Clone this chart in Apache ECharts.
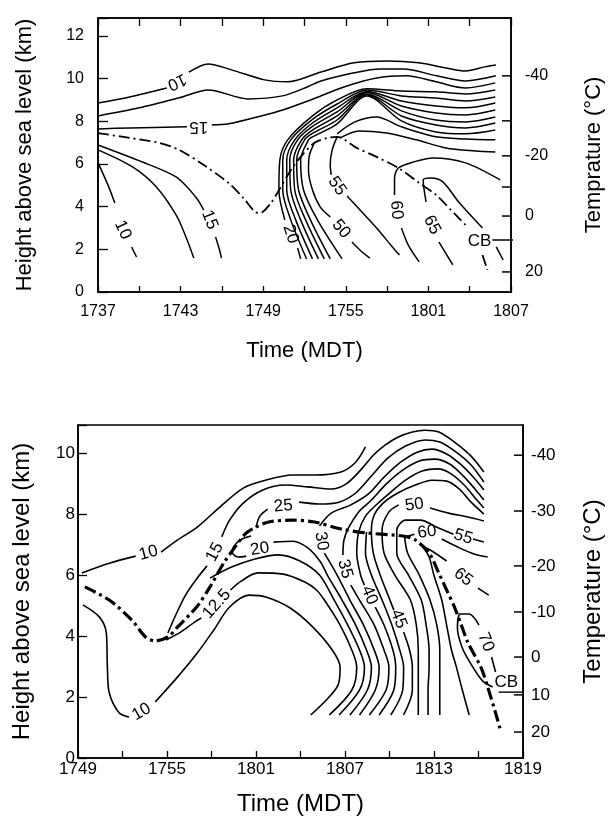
<!DOCTYPE html>
<html><head><meta charset="utf-8">
<script src="https://cdn.jsdelivr.net/npm/echarts@6/dist/echarts.min.js"></script>
<style>html,body{margin:0;padding:0;background:#fff}#c{width:613px;height:818px}</style>
</head><body><div id="c"></div>
<script>
const FONT = '"Liberation Sans", Arial, Helvetica, sans-serif';
// time values are minutes after 17:00
const TOP0 = 37, BOT0 = 49;
const xLabelsTop = ['1737','1743','1749','1755','1801','1807'];
const xLabelsBot = ['1749','1755','1801','1807','1813','1819'];
const tempTopHeights = [10.13, 8.02, 6.38, 4.92, 3.56, 0.94];
const tempTopLabels  = ['-40', '', '-20', '', '0', '20'];
const tempBotHeights = [9.93, 8.10, 6.30, 4.79, 3.31, 2.07, 0.85];
const tempBotLabels  = ['-40', '-30', '-20', '-10', '0', '10', '20'];

// ---------- top panel contours [time, height km] ----------
const t10a = [[37.0,8.86],[39.3,9.14],[42.0,9.56]];
const t10b = [[43.6,10.3],[45.0,10.69],[46.7,10.41],[49.1,9.94],[50.8,9.85],[53.2,10.31],[55.6,10.74],[58.0,10.83],[60.3,10.74],[62.3,10.5],[63.7,10.36],[65.1,10.55],[65.9,10.64]];
const t125 = [[37.0,8.25],[40.0,8.63],[42.9,9.1],[45.0,9.47],[47.9,9.05],[50.4,9.19],[52.2,9.61],[53.2,9.89],[55.6,10.27],[57.5,10.45],[59.2,10.45],[61.6,10.13],[63.7,9.89],[65.9,10.13]];
const t15a = [[37.0,7.64],[39.3,7.69],[43.46,7.74]];
const t15b = [[45.26,7.83],[46.48,7.88],[48.84,8.25],[50.42,8.53],[52.43,9.0],[54.87,9.61],[57.24,10.03],[59.4,10.13],[61.55,9.85],[63.7,9.56],[65.86,9.8]];
const tl10a = [[37.0,6.05],[37.72,5.02],[38.22,4.17]];
const tl10b = [[39.44,2.11],[39.8,1.64]];
const tl125 = [[37.0,6.66],[39.51,5.86],[41.24,4.92],[42.67,3.61],[43.39,2.58],[43.96,1.59]];
const tl15a = [[37.0,6.89],[40.23,6.09],[42.67,5.39],[44.1,4.45],[44.68,3.84]];
const tl15b = [[45.54,2.58],[45.83,1.97],[45.97,1.59]];
const tb1a = [[51.72,1.55],[51.5,2.06]];
const tb1b = [[50.57,3.38],[50.14,4.78],[50.21,6.19],[50.78,7.13],[52.58,8.25],[54.37,9.0],[56.53,9.52],[59.04,9.42],[61.55,9.38],[63.7,9.28],[65.86,9.47]];
const tb2 = [[52.15,1.55],[51.0,3.38],[50.42,4.78],[50.42,6.19],[51.0,7.13],[52.58,8.09],[54.37,8.81],[56.53,9.47],[59.04,9.19],[61.55,9.09],[63.7,8.95],[65.86,9.14]];
const tb3 = [[52.58,1.55],[51.36,3.38],[50.71,4.78],[50.71,6.19],[51.29,7.13],[52.58,7.92],[54.37,8.63],[56.53,9.4],[59.04,8.95],[61.55,8.72],[63.7,8.63],[65.86,8.86]];
const tb4 = [[53.01,1.55],[51.72,3.38],[51.0,4.78],[50.93,6.19],[51.5,7.13],[52.58,7.76],[54.37,8.44],[56.53,9.35],[59.04,8.72],[61.55,8.39],[63.7,8.3],[65.86,8.53]];
const tb5 = [[53.44,1.55],[52.08,3.38],[51.29,4.78],[51.21,6.19],[51.79,7.13],[52.58,7.59],[54.37,8.25],[56.53,9.28],[59.04,8.49],[61.55,8.06],[63.7,7.97],[65.86,8.2]];
const tb6 = [[53.87,1.55],[52.43,3.38],[51.57,4.78],[51.43,6.19],[52.0,7.13],[52.58,7.43],[54.37,8.06],[56.53,9.24],[59.04,8.25],[61.55,7.83],[63.7,7.69],[65.86,7.92]];
const tb7 = [[54.73,1.55],[52.94,3.38],[51.93,4.78],[51.72,6.19],[52.29,7.13],[52.58,7.27],[54.37,7.88],[56.53,9.19],[59.04,8.02],[61.55,7.5],[63.7,7.41],[65.86,7.59]];
const ts1 = [[54.37,7.41],[55.66,7.97],[57.24,8.2],[59.04,7.74],[61.55,7.27],[63.7,7.17],[65.86,7.13]];
const ts2 = [[54.59,7.22],[55.95,7.55],[57.96,7.45],[60.12,7.13],[62.27,6.75],[64.42,6.61],[65.86,6.56]];
const t50a = [[52.72,6.99],[52.36,6.42],[52.29,5.72],[52.58,4.78],[53.15,3.98],[53.87,3.52]];
const t50b = [[55.45,2.34],[56.02,1.97],[56.74,1.59]];
const t55a = [[54.37,7.27],[54.01,6.66],[53.87,5.95],[53.94,5.49]];
const t55b = [[55.09,4.5],[56.17,3.75],[57.24,3.0],[58.32,2.16],[58.9,1.73]];
const t60a = [[66.22,5.25],[63.7,6.05],[61.34,6.28],[59.9,6.09],[58.82,5.81],[58.54,5.34],[58.54,4.55]];
const t60b = [[59.04,3.0],[59.54,2.2],[60.33,1.41]];
const t65a = [[64.93,3.0],[63.2,4.22],[62.05,5.16],[61.19,5.34],[60.62,5.25],[60.83,4.22]];
const t65b = [[61.77,2.34],[62.77,1.27]];
const tCBa = [[37.0,7.45],[39.3,7.22],[41.45,6.99],[42.9,6.66],[44.68,5.95],[46.48,5.11],[47.55,4.41],[48.41,3.75],[48.77,3.7],[49.56,4.17],[50.07,4.69],[50.93,5.63],[51.72,6.33],[52.72,6.99],[53.65,7.22],[54.37,7.27],[55.81,6.75],[57.24,6.33],[58.82,5.81],[60.33,5.11],[61.55,4.55],[62.99,3.61],[63.7,3.14]];
const tCBb = [[64.93,1.73],[65.29,1.03]];
const tCBline = [[65.64,2.44],[67.37,2.44]];
const tTail = [[65.93,2.11],[66.43,1.5]];
const topLabels = [['10',42.74,9.85,205],['15',44.32,7.74,180],['10',38.79,2.91,-65],['15',45.11,3.38,-68],['20',51.0,2.72,-72],['55',54.37,4.97,-55],['50',54.66,2.95,-50],['60',58.68,3.84,-85],['65',61.26,3.14,-62],['CB',64.71,2.39,0]];

// ---------- bottom panel contours ----------
const b10a = [[49.26,6.07],[51.11,6.39],[52.89,6.62]];
const b10b = [[54.6,6.75],[55.72,7.15],[57.04,7.57],[58.56,8.23],[60.14,8.85],[61.66,9.11],[63.44,9.28],[64.95,9.28],[66.73,9.38],[67.72,9.7],[68.38,10.2]];
const b10la = [[49.33,5.02],[50.45,4.62],[50.91,4.1],[50.98,2.98],[51.11,2.13],[51.77,1.48],[52.43,1.34]];
const b10lb = [[54.21,1.84],[55.72,2.66],[57.04,3.44],[58.16,4.2],[59.22,4.95],[60.54,5.34],[61.66,5.28],[63.3,4.92],[64.82,4.3],[66.14,3.54],[66.67,2.98],[66.53,2.39],[65.74,1.9],[64.69,1.41]];
const b125a = [[54.93,3.87],[55.92,4.13],[56.84,4.45],[57.31,4.59]];
const b125b = [[59.28,5.51],[60.0,5.8],[61.13,6.07],[62.84,6.03],[64.29,5.77],[65.08,5.51],[65.61,5.18],[66.67,4.36],[67.46,3.54],[67.79,2.98],[67.46,2.23],[65.94,1.41]];
const b175 = [[57.9,5.9],[59.35,6.26],[60.87,6.52],[62.51,6.66],[63.96,6.46],[65.28,6.0],[66.27,5.18],[67.19,4.36],[67.98,3.54],[68.31,2.98],[67.98,2.23],[66.6,1.41]];
const b15a = [[55.06,4.1],[55.59,4.69],[56.25,5.34],[57.04,5.9],[57.7,6.3]];
const b15b = [[58.69,7.25],[59.22,7.8],[60.14,8.36],[61.46,8.79],[62.98,8.95],[64.49,8.89],[66.07,8.82],[67.06,8.98],[68.05,9.44],[68.91,9.93],[69.7,10.26],[70.56,10.52],[71.54,10.69],[72.4,10.75],[73.32,10.69],[74.38,10.36],[75.5,9.9],[76.36,9.38]];
const b20a = [[60.67,7.28],[59.94,7.15],[59.48,6.92],[59.42,6.72],[59.81,6.59],[60.34,6.62]];
const b20b = [[62.18,7.08],[63.5,7.11],[64.49,6.89],[65.35,6.43],[65.81,6.0],[66.8,5.18],[67.72,4.36],[68.45,3.54],[68.78,2.98],[68.51,2.23],[67.33,1.41]];
const b25a = [[61.0,7.57],[61.26,7.93],[61.79,8.16]];
const b25b = [[63.9,8.39],[65.28,8.33],[66.6,8.39],[67.72,8.69],[68.78,9.25],[69.9,9.84],[71.08,10.23],[72.4,10.43],[73.39,10.36],[74.38,10.07],[75.5,9.61],[76.36,9.05]];
const b30a = [[65.28,7.61],[66.07,8.03],[67.39,8.3],[68.58,8.66],[69.57,9.18],[70.75,9.7],[71.87,10.03],[72.86,10.13],[73.85,9.97],[74.84,9.61],[75.7,9.18],[76.36,8.79]];
const b30b = [[65.61,6.72],[66.47,6.0],[67.33,5.18],[68.25,4.36],[68.97,3.54],[69.3,2.98],[69.04,2.23],[67.98,1.41]];
const b35a = [[76.36,8.46],[75.76,8.82],[74.97,9.25],[74.05,9.64],[73.06,9.8],[72.01,9.74],[70.89,9.44],[69.77,8.98],[68.78,8.46],[67.92,8.07],[67.26,7.57],[66.93,7.15],[66.86,6.66]];
const b35b = [[67.39,5.67],[67.98,5.18],[68.97,4.36],[69.63,3.54],[69.96,2.98],[69.77,2.23],[68.64,1.41]];
const b40a = [[76.36,8.2],[75.83,8.49],[75.1,8.92],[74.18,9.31],[73.26,9.48],[72.2,9.41],[71.08,9.11],[70.09,8.72],[69.17,8.33],[68.38,7.93],[67.92,7.41],[67.79,6.72],[68.05,6.0],[68.31,5.67]];
const b40b = [[69.04,4.95],[69.63,4.36],[70.23,3.54],[70.42,2.98],[70.29,2.23],[69.3,1.41]];
const b425 = [[68.45,7.41],[68.38,6.72],[68.78,6.0],[69.5,5.18],[70.16,4.36],[70.69,3.54],[70.95,2.98],[70.89,2.23],[70.09,1.41]];
const b45a = [[76.36,8.0],[75.5,8.39],[74.71,8.82],[73.85,9.08],[72.86,9.11],[71.74,8.95],[70.56,8.69],[69.57,8.36],[68.97,7.97],[68.78,7.48],[68.91,6.72],[69.37,6.0],[70.03,5.18],[70.29,4.85]];
const b45b = [[70.95,4.13],[71.35,3.54],[71.54,2.98],[71.54,2.23],[70.95,1.41]];
const b50a = [[76.36,7.77],[75.3,7.9],[73.98,8.03],[72.73,8.2]];
const b50b = [[70.62,8.3],[69.96,8.07],[69.5,7.48],[69.63,6.72],[70.36,6.0],[71.41,5.18],[71.81,4.36],[71.94,3.54],[71.94,2.98],[71.94,2.23],[71.94,1.41]];
const b55a = [[75.63,7.18],[76.36,7.08]];
const b55b = [[74.31,7.34],[73.19,7.57],[72.07,7.8],[71.08,7.8],[70.49,7.48],[70.49,6.72],[71.28,6.0],[72.14,5.18],[72.47,4.36],[72.67,3.54],[72.67,2.98],[72.6,2.23],[72.6,1.41]];
const b60a = [[71.02,7.25],[71.68,7.34]];
const b60b = [[73.52,7.18],[74.71,6.89],[75.7,6.69],[76.62,6.59]];
const b60leg = [[71.02,7.25],[71.22,6.72],[72.01,6.0],[72.73,5.18],[73.19,4.36],[73.39,3.54],[73.39,2.98],[73.39,2.23],[73.39,1.41]];
const b65a = [[72.2,6.95],[72.86,6.79],[73.85,6.46]];
const b65b = [[75.96,5.57],[76.69,5.34]];
const b65leg = [[72.2,6.95],[72.67,6.59],[72.99,6.0],[73.52,5.18],[73.85,4.36],[74.18,3.54],[74.51,2.98],[74.91,2.23],[75.37,1.41]];
const b70a = [[76.03,4.36],[75.37,4.72],[74.77,4.72],[74.58,4.26],[74.91,3.61],[75.57,3.02],[76.29,2.52],[76.95,2.33]];
const b70b = [[76.88,3.31],[77.15,2.82]];
const bCB = [[49.46,5.61],[51.11,5.18],[52.63,4.52],[53.55,3.97],[54.21,3.84],[55.06,3.97],[55.72,4.3],[57.04,4.98],[57.9,5.61],[58.82,6.39],[59.68,6.98],[60.34,7.38],[61.0,7.57],[61.85,7.74],[63.44,7.8],[64.95,7.74],[66.73,7.51],[68.45,7.38],[70.89,7.28],[71.74,7.15],[72.67,6.72],[73.32,6.07],[73.85,5.51],[74.38,4.95],[74.84,4.36],[75.3,3.77],[76.16,2.98],[76.62,2.33],[77.15,1.48],[77.48,0.92]];
const bCBline = [[77.35,2.16],[79.0,2.16]];
const botLabels = [['10',53.75,6.72,15],['10',53.28,1.51,30],['12.5',58.36,5.05,48],['15',58.23,6.75,62],['20',61.26,6.85,10],['25',62.84,8.26,5],['30',65.41,7.11,-80],['35',67.0,6.2,-75],['40',68.64,5.34,-68],['45',70.62,4.56,-68],['50',71.68,8.3,8],['60',72.53,7.41,8],['55',74.97,7.25,-18],['65',74.97,5.93,-38],['70',76.49,3.8,-68],['CB',77.87,2.49,0]];

// ---------- build ----------
const series = [];
function shift(a, t0) { return a.map(p => [p[0] - t0, p[1]]); }
function addLines(list, t0, xi, yi, width, type, clip) {
  list.forEach(a => series.push({
    type: 'line', xAxisIndex: xi, yAxisIndex: yi, data: shift(a, t0),
    smooth: 0.3, symbol: 'none', silent: true, clip: clip !== false,
    lineStyle: { color: '#000', width: width, type: type || 'solid' }, z: 3
  }));
}
function addLabels(list, t0, xi, yi) {
  series.push({
    type: 'scatter', xAxisIndex: xi, yAxisIndex: yi, symbolSize: 0.5, silent: true, z: 4,
    itemStyle: { color: '#fff', opacity: 1 },
    label: { show: true, position: 'inside', color: '#000', opacity: 1, textBorderWidth: 0, fontSize: 17, fontFamily: FONT },
    data: list.map(l => ({ value: [l[1] - t0, l[2]], label: { formatter: l[0], rotate: l[3] } }))
  });
}
function addTemp(heights, labels, xi, yi, dist, fs) {
  series.push({
    type: 'scatter', xAxisIndex: xi, yAxisIndex: yi, clip: false, silent: true, z: 5,
    symbol: 'rect', symbolSize: [9, 1.5], symbolOffset: [-4.5, 0], itemStyle: { color: '#000', opacity: 1 },
    label: { show: true, position: 'right', distance: dist, color: '#000', opacity: 1, textBorderWidth: 0, fontSize: fs, fontFamily: FONT },
    data: heights.map((h, i) => labels[i] ? { value: [30, h], label: { formatter: labels[i] } } : { value: [30, h], label: { show: false } })
  });
}

addLines([t10a,t10b,t125,t15a,t15b,tl10a,tl10b,tl125,tl15a,tl15b,tb1a,tb1b,tb2,tb3,tb4,tb5,tb6,tb7,ts1,ts2,t50a,t50b,t55a,t55b,t60a,t60b,t65a,t65b,tTail], TOP0, 0, 0, 1.5);
addLines([tCBa,tCBb], TOP0, 0, 0, 1.8, [11,4,2,4]);
addLines([tCBline], TOP0, 0, 0, 1.4, 'solid', false);
addLabels(topLabels, TOP0, 0, 0);
addTemp(tempTopHeights, tempTopLabels, 0, 0, 14, 16);

addLines([b10a,b10b,b10la,b10lb,b125a,b125b,b175,b15a,b15b,b20a,b20b,b25a,b25b,b30a,b30b,b35a,b35b,b40a,b40b,b425,b45a,b45b,b50a,b50b,b55a,b55b,b60a,b60b,b60leg,b65a,b65b,b65leg,b70a,b70b], BOT0, 2, 2, 1.6);
addLines([bCB], BOT0, 2, 2, 3.2, [12,4,3,4]);
addLines([bCBline], BOT0, 2, 2, 1.4, 'solid', false);
addLabels(botLabels, BOT0, 2, 2);
addTemp(tempBotHeights, tempBotLabels, 2, 2, 8, 17);

const axLine = { show: true, onZero: false, lineStyle: { color: '#000', width: 1.6 } };
const nameStyle = (fs) => ({ fontSize: fs, color: '#000', fontFamily: FONT });
const option = {
  animation: false,
  backgroundColor: '#fff',
  grid: [
    { left: 98, top: 18, width: 419, height: 274, show: true, borderColor: '#000', borderWidth: 1.6 },
    { left: 78, top: 425, width: 455, height: 333, show: true, borderColor: '#000', borderWidth: 1.6 }
  ],
  xAxis: [
    { gridIndex: 0, type: 'value', min: 0, max: 30, interval: 3, position: 'bottom', axisLine: axLine,
      axisTick: { show: true, inside: true, length: 6, lineStyle: { color: '#000', width: 1.3 } }, splitLine: { show: false },
      axisLabel: { color: '#000', fontSize: 16, fontFamily: FONT, margin: 12, formatter: v => (v % 6 === 0 ? xLabelsTop[v / 6] : '') },
      name: 'Time (MDT)', nameLocation: 'middle', nameGap: 48, nameTextStyle: nameStyle(22) },
    { gridIndex: 0, type: 'value', min: 0, max: 30, interval: 3, position: 'top', axisLine: axLine,
      axisTick: { show: true, inside: true, length: 8, lineStyle: { color: '#000', width: 1.3 } }, splitLine: { show: false },
      axisLabel: { show: false } },
    { gridIndex: 1, type: 'value', min: 0, max: 30, interval: 3, position: 'bottom', axisLine: axLine,
      axisTick: { show: true, inside: true, length: 7, lineStyle: { color: '#000', width: 1.3 } }, splitLine: { show: false },
      axisLabel: { color: '#000', fontSize: 17, fontFamily: FONT, margin: 3, formatter: v => (v % 6 === 0 ? xLabelsBot[v / 6] : '') },
      name: 'Time (MDT)', nameLocation: 'middle', nameGap: 34, nameTextStyle: nameStyle(24) }
  ],
  yAxis: [
    { gridIndex: 0, type: 'value', min: 0, max: 12.84, interval: 2, position: 'left', axisLine: axLine,
      axisTick: { show: true, inside: true, length: 10, lineStyle: { color: '#000', width: 1.3 } }, splitLine: { show: false },
      axisLabel: { color: '#000', fontSize: 16, fontFamily: FONT, margin: 14, formatter: v => (v % 2 === 0 && v <= 12 ? String(v) : '') },
      name: 'Height above sea level (km)', nameLocation: 'middle', nameRotate: 90, nameGap: 62, nameTextStyle: nameStyle(22) },
    { gridIndex: 0, type: 'value', min: 0, max: 12.84, position: 'right', axisLine: axLine,
      axisTick: { show: false }, axisLabel: { show: false }, splitLine: { show: false },
      name: 'Temprature (°C)', nameLocation: 'middle', nameRotate: 90, nameGap: 72, nameTextStyle: nameStyle(22) },
    { gridIndex: 1, type: 'value', min: 0, max: 10.92, interval: 2, position: 'left', axisLine: axLine,
      axisTick: { show: true, inside: true, length: 9, lineStyle: { color: '#000', width: 1.3 } }, splitLine: { show: false },
      axisLabel: { color: '#000', fontSize: 17, fontFamily: FONT, margin: 3, formatter: v => (v % 2 === 0 && v <= 10 ? String(v) : '') },
      name: 'Height above sea level (km)', nameLocation: 'middle', nameRotate: 90, nameGap: 44, nameTextStyle: nameStyle(24) },
    { gridIndex: 1, type: 'value', min: 0, max: 10.92, position: 'right', axisLine: axLine,
      axisTick: { show: false }, axisLabel: { show: false }, splitLine: { show: false },
      name: 'Temperature (°C)', nameLocation: 'middle', nameRotate: 90, nameGap: 58, nameTextStyle: nameStyle(24) }
  ],
  series: series
};
const chart = echarts.init(document.getElementById('c'), null, { renderer: 'canvas' });
chart.setOption(option);
</script>
</body></html>
